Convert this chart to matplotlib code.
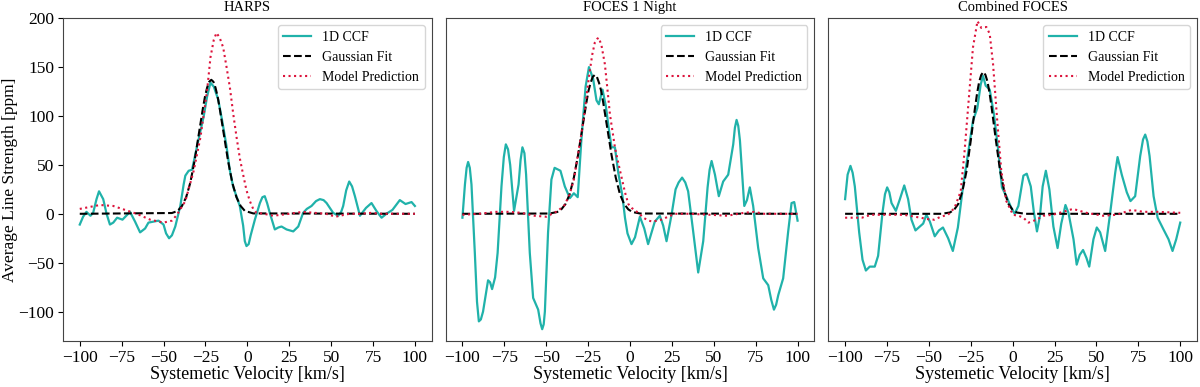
import numpy as np
import matplotlib
matplotlib.use("Agg")
import matplotlib.pyplot as plt

# values: (velocity [km/s], line strength [ppm])
ccf_harps = [(-100, -11), (-98, -3), (-96, 2), (-93.6, -2), (-92, 1), (-90, 15), (-88.5, 23),
             (-86, 15), (-84, 0), (-82, -11), (-80, -9), (-77.7, -4), (-74.5, -6), (-70, 2),
             (-67, -8), (-64, -19), (-61, -15), (-59, -9), (-53, -7), (-50, -11), (-48.5, -20),
             (-46.7, -25), (-45, -22), (-43, -13), (-40, 8), (-38, 30), (-37, 39), (-35, 44),
             (-33, 45), (-30, 69), (-26, 100), (-24, 120), (-22, 134), (-20, 130), (-17.4, 117),
             (-15, 95), (-12.4, 69), (-10.5, 45), (-8.5, 28), (-6.5, 18), (-4.5, 8), (-2.5, -12),
             (-1.5, -28), (-0.5, -33), (0.8, -31), (2, -22), (4.5, -6), (7.5, 11), (9, 17),
             (10.4, 18), (11.8, 11), (13.4, 1), (16.4, -16), (18.5, -14), (20.4, -13), (23.4, -16),
             (27.4, -18), (30.4, -13), (33.3, 1), (35.5, 5), (38.3, 8), (41, 13), (43.3, 15),
             (45.5, 14), (47.3, 11), (51.2, 1), (54.2, -2), (56, 2), (57.2, 8), (59, 24),
             (60.8, 33), (62.5, 28), (64.2, 18), (67.2, -2), (70.8, 6), (74.1, 11), (77, 3),
             (80.1, -4), (83, 0), (86.6, 4), (91, 14), (94.4, 10), (98, 12), (100, 8)]
gauss_harps = [(-100, 0), (-45, 0.8), (-41.5, 3), (-39, 8), (-36.5, 17), (-34, 32), (-31.5, 54),
               (-29, 81), (-26.5, 108), (-25.25, 120), (-24, 129), (-22.75, 135), (-21.5, 137),
               (-20.25, 135), (-19, 129), (-17.75, 120), (-16.5, 108), (-14, 81), (-11.5, 54),
               (-9, 32), (-6.5, 17), (-4, 8), (-1.5, 3), (3.5, 0.4), (100, 0)]
model_harps = [(-100, 5), (-88, 9), (-80, 8), (-66, 0), (-58, -6), (-50, -9), (-45, -7), (-42, -1),
               (-37, 13), (-32, 44), (-28, 78), (-24, 126), (-22, 160), (-20, 178), (-18.4, 185),
               (-16.5, 180), (-14.4, 170), (-12.4, 150), (-10.4, 129), (-8.4, 102), (-6.4, 78),
               (-4.4, 56), (-2.5, 40), (-0.5, 24), (1.5, 13), (3.5, 5), (5.5, 1), (10, 0),
               (15.4, -2), (25, 0), (33, 2), (40, 1), (47, 0), (52.6, -3), (58, -1), (61, 0),
               (67, 0), (74, 1), (80, 0), (90, 0), (100, 0)]

ccf_foces1 = [(-100, -4), (-98.5, 30), (-97.5, 47), (-96.6, 53), (-95.6, 47), (-94.6, 30),
              (-92.6, -40), (-91.3, -90), (-90.2, -110), (-89, -108), (-87.7, -100), (-84.7, -68),
              (-83.5, -70), (-82.3, -77), (-80.5, -65), (-79, -40), (-76.7, 28), (-75.3, 58),
              (-74.1, 71), (-72.8, 66), (-71.5, 50), (-69.2, 3), (-66.5, 30), (-65.3, 55),
              (-64.2, 68), (-63, 62), (-62, 40), (-59.8, -40), (-57.8, -86), (-54.8, -98),
              (-53.4, -112), (-52.4, -118), (-51.5, -113), (-50.8, -100), (-48.9, -19),
              (-46.9, 35), (-45, 47), (-41.5, 44), (-38.9, 28), (-35.9, 16), (-33.5, 21),
              (-31.2, 17), (-29, 76), (-26.5, 130), (-24.5, 150), (-22, 138), (-20, 116),
              (-18.6, 112), (-16.4, 127), (-14.4, 110), (-12.5, 85), (-11, 68), (-9, 68), (-7, 42),
              (-4.5, 18), (-3, -4), (-1.5, -20), (0.9, -31), (3, -24), (5.9, -3), (8.5, -15),
              (10.8, -31), (14.8, -8), (17.8, -2), (19.8, -12), (21.8, -28), (24.8, -1), (27.2, 25),
              (29, 32), (31.1, 37), (33, 32), (34.7, 23), (37.7, -18), (40.7, -60), (43.7, -28),
              (46.3, 27), (47.5, 45), (48.7, 54), (50.7, 40), (53, 18), (55.6, 33), (58.6, 40),
              (61.6, 71), (62.6, 88), (63.6, 96), (64.6, 90), (65.6, 75), (68.2, 8), (69.8, 14),
              (71.5, 27), (73.5, 8), (76.5, -35), (79.5, -66), (82.5, -73), (84.3, -88),
              (85.9, -98), (87.2, -93), (88.5, -83), (91.4, -66), (94.4, -18), (96.4, 11), (98, 12),
              (100, -7)]
gauss_foces1 = [(-100, 0), (-48, 0.3), (-43.5, 1.8), (-41, 4.5), (-38.5, 10), (-36, 20),
                (-33.5, 37), (-31, 60), (-28.5, 87), (-26, 114), (-24.75, 126), (-23.5, 134),
                (-22.25, 140), (-21, 142), (-19.75, 140), (-18.5, 134), (-17.25, 126), (-16, 114),
                (-13.5, 87), (-11, 60), (-8.5, 37), (-6, 20), (-3.5, 10), (-1, 4.5), (1.5, 1.8),
                (6, 0.3), (100, 0)]
model_foces1 = [(-100, -1), (-90, 0), (-80, 2), (-72, 2), (-65, 1), (-57, -2), (-50, -3), (-43, 3),
                (-39, 9), (-36, 20), (-33.5, 35), (-31, 61), (-29, 82), (-27, 105), (-25.5, 127),
                (-24, 146), (-22.5, 163), (-21, 175), (-19.5, 179), (-18.6, 180), (-17, 172),
                (-15, 153), (-13.5, 128), (-12, 102), (-10.5, 85), (-9, 68), (-7, 52), (-5, 37),
                (-3, 22), (-1, 10), (1, 6), (3, 3.5), (5, 1), (8, -4), (11, -7), (13.8, -8),
                (16, -7), (18.7, -6), (22.7, -3), (27, 0), (35, 0), (48, -1), (58, -2), (68, 1),
                (74, 2), (80, 0), (90, 0), (100, 0)]

ccf_comb = [(-100, 15), (-98.5, 40), (-96.8, 49), (-95.5, 42), (-94.2, 28), (-91.6, -19),
            (-89.6, -47), (-87.6, -58), (-85.3, -54), (-82.3, -54), (-80.3, -43), (-77.7, 1),
            (-76.2, 20), (-74.9, 27), (-73.6, 22), (-72.3, 11), (-69.7, 3), (-67.3, 15),
            (-64.7, 29), (-62.4, 15), (-60.4, -6), (-58, -17), (-55.4, -13), (-53.4, -10),
            (-51.5, -1), (-49.4, -8), (-46.5, -23), (-44, -17), (-41.6, -14), (-38.5, -25),
            (-35.7, -38), (-32.7, -14), (-29.7, 27), (-26.7, 61), (-23.7, 95), (-21.1, 108),
            (-19.1, 132), (-17.7, 141), (-16.1, 131), (-13.7, 127), (-11.2, 102), (-8.8, 68),
            (-6.4, 27), (-3.8, 18), (-0.8, 6), (1.2, 0), (3.4, 8), (6.4, 39), (8.4, 41),
            (10.8, 28), (12.7, 1), (14.5, -18), (16.3, -2), (17.9, 28), (19.8, 44), (21.9, 25),
            (24.3, -13), (26.8, -35), (29, -10), (31.5, 9), (33.3, 1), (36.3, -26), (38.2, -52),
            (40, -42), (42, -37), (44, -45), (45.7, -54), (48.2, -26), (50.2, -14), (52.2, -19),
            (55.2, -38), (58.2, 1), (61.2, 42), (62.6, 58), (65.1, 40), (68.1, 22), (70.3, 13),
            (73.1, 18), (76.1, 59), (77.8, 76), (79.1, 81), (80.4, 74), (81.7, 59), (84.1, 18),
            (86.5, -4), (90, -16), (93, -26), (95.4, -38), (97.6, -26), (100, -9)]
gauss_comb = [(-100, 0), (-42.5, 0), (-37.5, 1.3), (-35, 4), (-32.5, 10), (-30, 23), (-27.5, 44),
              (-25, 75), (-22.5, 108), (-21.25, 123), (-20, 135), (-18.75, 142), (-17.5, 145),
              (-16.25, 142), (-15, 135), (-13.75, 123), (-12.5, 108), (-10, 75), (-7.5, 44),
              (-5, 23), (-2.5, 10), (0, 4), (2.5, 1.3), (7.5, 0), (100, 0)]
model_comb = [(-100, -4), (-90, -4), (-84.5, -1), (-75, -1), (-65, -1), (-55, -4), (-49, -6),
              (-46.6, -6), (-43, -3), (-38.6, -1), (-34.7, 6), (-31, 23), (-28.7, 64), (-26.3, 115),
              (-23.7, 170), (-21, 197), (-18.7, 190), (-15.7, 191), (-13.7, 184), (-11.7, 153),
              (-9.2, 95), (-6.8, 44), (-3.8, 13), (0.2, -1), (3.4, -2), (6.4, -4), (9.4, -9),
              (14.3, -6), (18.3, -2), (24, -1), (30, 2), (36, 5), (40, 3), (44, 1), (54, -2),
              (62, -1), (71, 4), (78, 2), (86, 2), (100, 1)]

titles = ["HARPS", "FOCES 1 Night", "Combined FOCES"]
panels = [(ccf_harps, gauss_harps, model_harps),
          (ccf_foces1, gauss_foces1, model_foces1),
          (ccf_comb, gauss_comb, model_comb)]

plt.rcParams['font.family'] = ['Liberation Serif', 'DejaVu Serif']

fig, axes = plt.subplots(1, 3, figsize=(12, 3.87), dpi=100, sharey=True)
fig.subplots_adjust(left=0.0525, right=0.9975, top=0.953, bottom=0.119, wspace=0.038)

for i, ax in enumerate(axes):
    ccf, gauss, model = [np.array(p).T for p in panels[i]]
    ax.plot(ccf[0], ccf[1], color='lightseagreen', lw=1.6, label='1D CCF')
    ax.plot(gauss[0], gauss[1], color='black', ls='--', lw=1.5, label='Gaussian Fit')
    ax.plot(model[0], model[1], color='crimson', ls=':', lw=1.5, label='Model Prediction')
    ax.set_title(titles[i], fontsize=10.5, pad=5)
    ax.set_xlabel('Systemetic Velocity [km/s]', fontsize=13, labelpad=0)
    ax.set_xticks([-100, -75, -50, -25, 0, 25, 50, 75, 100])
    ax.tick_params(labelsize=12.5, pad=3)
    ax.set_ylim(-130, 200)
    ax.legend(loc='upper right', fontsize=10)
    for s in ax.spines.values():
        s.set_color('#444444')
    if i > 0:
        ax.tick_params(axis='y', left=False, labelleft=False)

axes[0].set_ylabel('Average Line Strength [ppm]', fontsize=12.5)
axes[0].yaxis.set_label_coords(-0.121, 0.5)

fig.savefig('out.png')
